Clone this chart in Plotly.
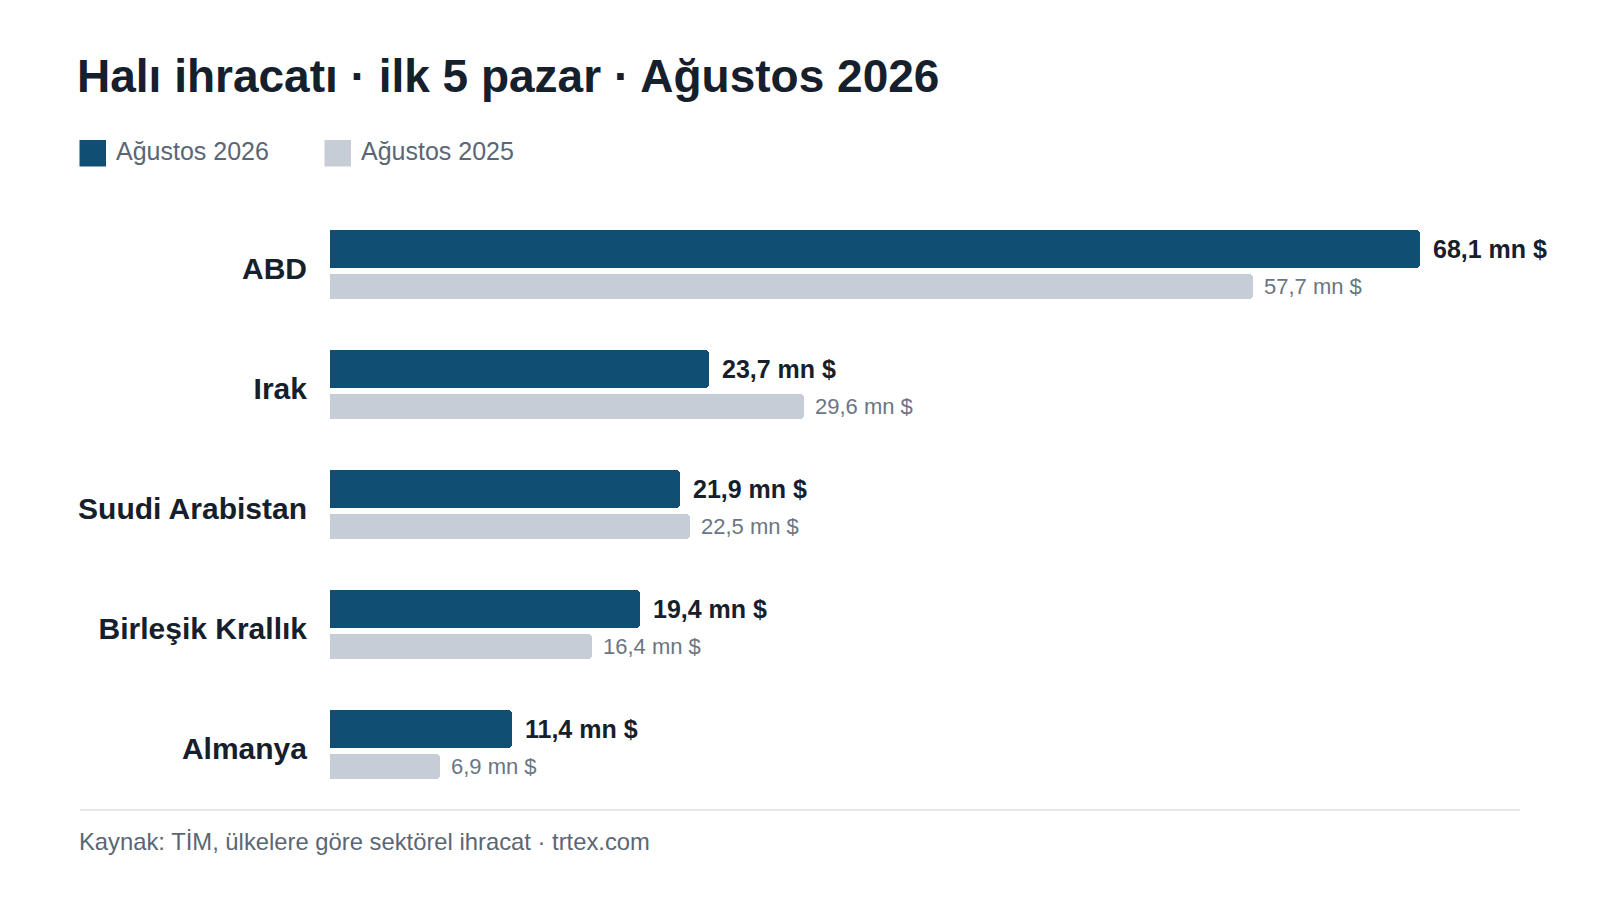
import plotly.graph_objects as go

# ---- data ----
countries = ["ABD", "Irak", "Suudi Arabistan", "Birleşik Krallık", "Almanya"]
values_2026 = [68.1, 23.7, 21.9, 19.4, 11.4]
values_2025 = [57.7, 29.6, 22.5, 16.4, 6.9]
series_names = ["Ağustos 2026", "Ağustos 2025"]
title_text = "Halı ihracatı · ilk 5 pazar · Ağustos 2026"
source_text = "Kaynak: TİM, ülkelere göre sektörel ihracat · trtex.com"
unit = "mn $"

# ---- style ----
OFF = 8                      # page body margin
W, H = 1600 - OFF, 900 - OFF
L, R, T, B = 330 - OFF, 1520 - OFF, 205 - OFF, 805 - OFF
C_NEW = "#114E74"
C_OLD = "#C6CDD6"
C_DARK = "#16202C"
C_GRAY = "#5B6675"
C_VAL_OLD = "#6B7583"
FONT = "Liberation Sans, Arial, sans-serif"

def px_x(sx):
    return (sx - OFF - L) / (R - L)

def px_y(sy):
    return (B - (sy - OFF)) / (B - T)

x_max = max(values_2026 + values_2025) * 1.092

fig = go.Figure()
fig.add_trace(go.Bar(
    y=countries, x=values_2026, orientation="h", name=series_names[0],
    marker=dict(color=C_NEW, cornerradius=4, line=dict(width=0)),
    offset=-0.2917, width=0.314, showlegend=False, hoverinfo="skip",
))
fig.add_trace(go.Bar(
    y=countries, x=values_2025, orientation="h", name=series_names[1],
    marker=dict(color=C_OLD, cornerradius=4, line=dict(width=0)),
    offset=0.0775, width=0.208, showlegend=False, hoverinfo="skip",
))

annotations = []
for c, v in zip(countries, values_2026):
    annotations.append(dict(
        x=v, y=c, xref="x", yref="y", text=f"{v:.1f}".replace(".", ",") + " " + unit,
        showarrow=False, xanchor="left", yanchor="middle", xshift=11, yshift=16.2,
        font=dict(family=FONT, size=25, color=C_DARK, weight="bold"),
    ))
for c, v in zip(countries, values_2025):
    annotations.append(dict(
        x=v, y=c, xref="x", yref="y", text=f"{v:.1f}".replace(".", ",") + " " + unit,
        showarrow=False, xanchor="left", yanchor="middle", xshift=9, yshift=-21.8,
        font=dict(family=FONT, size=22, color=C_VAL_OLD),
    ))

# title
annotations.append(dict(
    x=px_x(74.5), y=px_y(76), xref="paper", yref="paper", text=f"<b>{title_text}</b>",
    showarrow=False, xanchor="left", yanchor="middle",
    font=dict(family=FONT, size=46, color=C_DARK),
))
# legend (custom)
shapes = []
legend_items = [(79.5, series_names[0], C_NEW), (324.5, series_names[1], C_OLD)]
for lx, name, col in legend_items:
    shapes.append(dict(type="rect", xref="paper", yref="paper",
                       x0=px_x(lx), x1=px_x(lx + 26.5), y0=px_y(166.5), y1=px_y(140),
                       fillcolor=col, line=dict(width=0)))
    annotations.append(dict(
        x=px_x(lx + 34), y=px_y(151), xref="paper", yref="paper", text=name,
        showarrow=False, xanchor="left", yanchor="middle",
        font=dict(family=FONT, size=25, color=C_GRAY),
    ))
# footer
shapes.append(dict(type="line", xref="paper", yref="paper",
                   x0=px_x(80), x1=px_x(1520), y0=px_y(810), y1=px_y(810),
                   line=dict(color="#E3E6EA", width=2)))
annotations.append(dict(
    x=px_x(77), y=px_y(841.5), xref="paper", yref="paper", text=source_text,
    showarrow=False, xanchor="left", yanchor="middle",
    font=dict(family=FONT, size=23.8, color=C_GRAY),
))

fig.update_layout(
    width=W, height=H,
    margin=dict(l=L, r=W - R, t=T, b=H - B, pad=0),
    paper_bgcolor="white", plot_bgcolor="white",
    barmode="overlay", bargap=0,
    separators=",.",
    font=dict(family=FONT, color=C_DARK),
    xaxis=dict(range=[0, x_max], visible=False, fixedrange=True),
    yaxis=dict(
        type="category", categoryorder="array", categoryarray=countries,
        range=[len(countries) - 0.5, -0.5],
        showgrid=False, zeroline=False, showline=False, ticks="",
        ticklabelstandoff=22, ticklabelshift=-3,
        tickfont=dict(family=FONT, size=30, color=C_DARK, weight="bold"),
        fixedrange=True,
    ),
    annotations=annotations, shapes=shapes,
    showlegend=False,
)

fig.write_html("out.html")
